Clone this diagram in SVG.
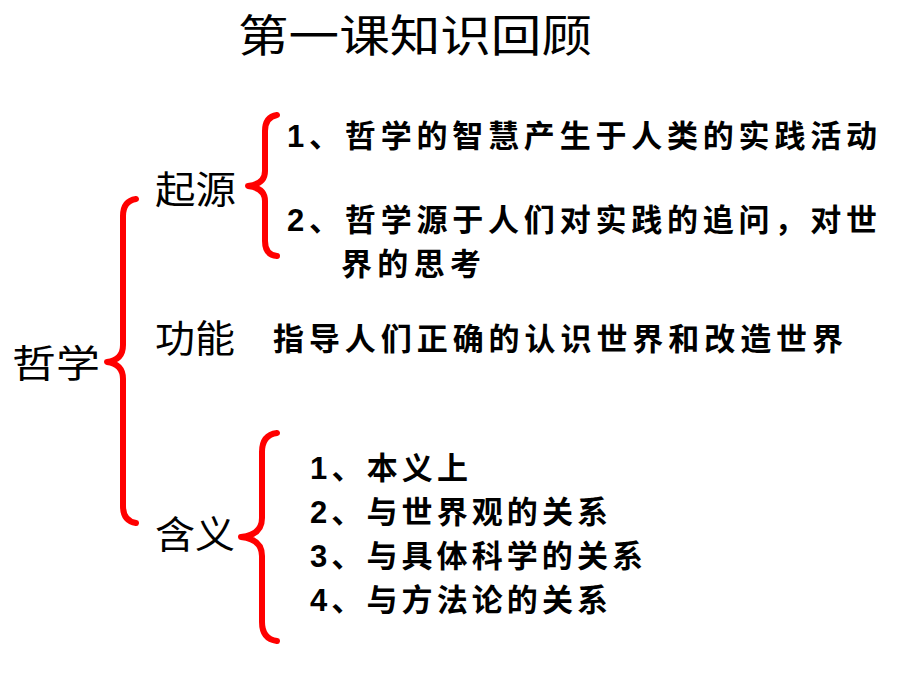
<svg xmlns="http://www.w3.org/2000/svg" width="920" height="690" viewBox="0 0 920 690">
<style>
.brace{fill:none;stroke:#ff0000;stroke-width:6;stroke-linecap:round;stroke-linejoin:round}
.title{font-family:"Noto Sans CJK SC","Noto Sans",sans-serif;font-size:44px;fill:#000}
.head{font-family:"Noto Sans CJK SC","Noto Sans",sans-serif;font-size:38px;fill:#000}
.item{font-family:"Liberation Sans","Noto Sans CJK SC",sans-serif;font-size:31px;font-weight:bold;fill:#000}
</style>
<rect width="920" height="690" fill="#fff"/>
<g id="title"><text class="title" x="238" y="52" textLength="354" lengthAdjust="spacingAndGlyphs">第一课知识回顾</text></g>
<g id="connectors">
<path class="brace" d="M136,199 Q123,201 123,216 L123,345 Q123,360 107,362 Q123,364 123,379 L123,506 Q123,521 136,523"/>
<path class="brace" d="M277,115 Q265,117 265,131 L265,171 Q265,184 248,186 Q265,188 265,201 L265,241 Q265,255 277,256"/>
<path class="brace" d="M277,433 Q262,435 262,452 L262,518 Q262,535 241,537 Q262,539 262,556 L262,622 Q262,639 277,641"/>
</g>
<g id="node-philosophy"><text class="head" x="12" y="377" font-size="44" textLength="88" lengthAdjust="spacingAndGlyphs">哲学</text></g>
<g id="node-origin"><text class="head" x="155" y="203" textLength="81" lengthAdjust="spacingAndGlyphs">起源</text></g>
<g id="node-function"><text class="head" x="155" y="352" textLength="80" lengthAdjust="spacingAndGlyphs">功能</text></g>
<g id="node-meaning"><text class="head" x="155" y="548" textLength="80" lengthAdjust="spacingAndGlyphs">含义</text></g>
<g id="origin-1"><text class="item" x="287" y="147" textLength="590" lengthAdjust="spacing">1、哲学的智慧产生于人类的实践活动</text></g>
<g id="origin-2"><text class="item" x="287" y="231" textLength="590" lengthAdjust="spacing">2、哲学源于人们对实践的追问，对世</text><text class="item" x="341" y="275" textLength="140" lengthAdjust="spacing">界的思考</text></g>
<g id="function-1"><text class="item" x="273" y="350" textLength="570" lengthAdjust="spacing">指导人们正确的认识世界和改造世界</text></g>
<g id="meaning-list">
<text class="item" x="310" y="479" textLength="158" lengthAdjust="spacing">1、本义上</text>
<text class="item" x="310" y="523" textLength="298" lengthAdjust="spacing">2、与世界观的关系</text>
<text class="item" x="310" y="567" textLength="333" lengthAdjust="spacing">3、与具体科学的关系</text>
<text class="item" x="310" y="611" textLength="298" lengthAdjust="spacing">4、与方法论的关系</text>
</g>
</svg>
